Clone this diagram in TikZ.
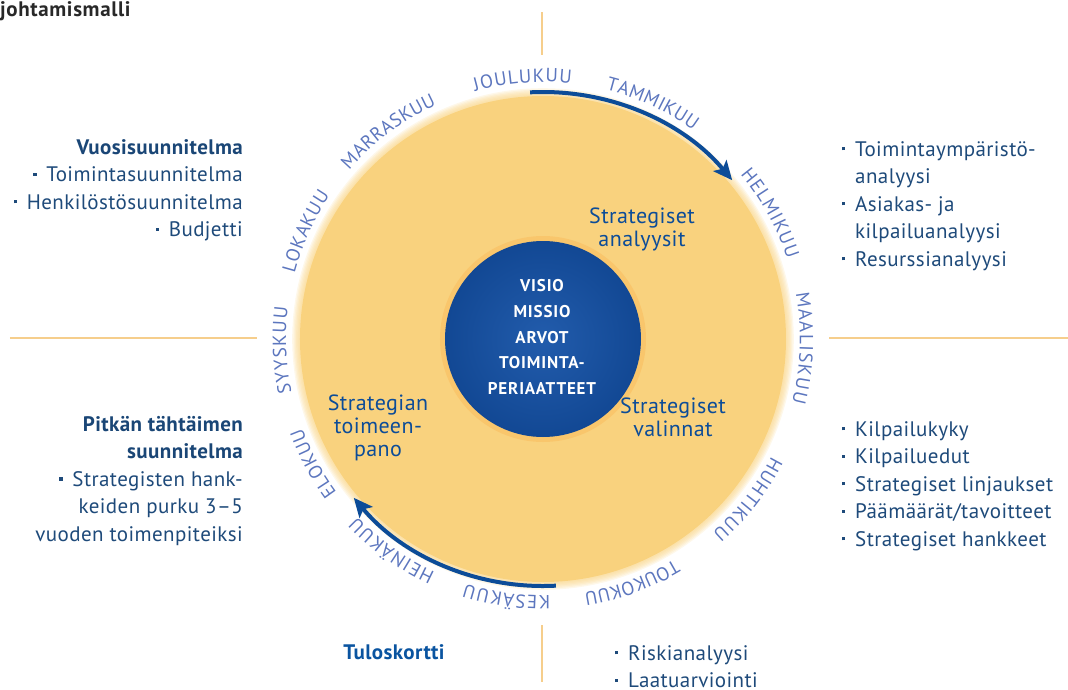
\documentclass[tikz,border=0pt]{standalone}
\usepackage{fontspec}
\setmainfont{PT Sans}
\usetikzlibrary{arrows.meta, positioning, decorations.text}

\definecolor{discyellow}{RGB}{249,210,126}
\definecolor{coreblue}{RGB}{18,72,148}
\definecolor{coreinner}{RGB}{34,92,172}
\definecolor{textblue}{RGB}{30,74,122}
\definecolor{headblue}{RGB}{26,70,118}
\definecolor{cardblue}{RGB}{10,84,160}
\definecolor{monthblue}{RGB}{92,118,190}
\definecolor{arcblue}{RGB}{12,76,152}
\definecolor{ruleline}{RGB}{246,206,140}
\definecolor{titlegray}{RGB}{40,40,40}

\newcommand*\bul{\makebox[13pt][l]{\raisebox{0.27em}{\rule{3.2pt}{3.2pt}}}}
\newcommand*\monthfont{\fontsize{19}{19}\selectfont}

\tikzset{
  side/.style={inner sep=0pt, text=textblue,
    font=\fontsize{21}{27.5}\selectfont\addfontfeature{LetterSpace=2}},
  sidel/.style={side, align=left},
  sider/.style={side, align=right},
  phase/.style={inner sep=0pt, align=center, text=arcblue,
    font=\fontsize{22}{23}\selectfont\addfontfeature{LetterSpace=2}},
  core/.style={inner sep=0pt, align=center, text=white,
    font=\fontsize{17}{25.7}\selectfont\bfseries\addfontfeature{LetterSpace=5}},
  turn/.style={-{Stealth[length=19pt, width=17pt, inset=4pt]}, line width=4pt, arcblue},
  divider/.style={ruleline, line width=1.2pt},
}

\begin{document}
\begin{tikzpicture}[x=1pt, y=1pt]
  \useasboundingbox (-543,-350) rectangle (525,339);

  % title
  \node[inner sep=0pt, anchor=base west, text=titlegray,
    font=\fontsize{21}{21}\selectfont\bfseries\addfontfeature{LetterSpace=3}] (title) at (-543,322) {johtamismalli};

  % dividers
  \draw[divider] (-533,1) -- (-286,1);
  \draw[divider] (286,1) -- (525,1);
  \draw[divider] (-1,284) -- (-1,327);
  \draw[divider] (-1,-286) -- (-1,-343);

  % disc with soft rim
  \fill[discyellow] (0,0) circle (243);
  \foreach \i in {1,...,6}
    \fill[discyellow, opacity=0.16] (0,0) circle ({243+\i*1.3});

  % core
  \fill[discyellow!70!orange, opacity=0.45] (0,0) circle (103);
  \shade[inner color=coreinner, outer color=coreblue] (0,0) circle (98);
  \node[core] (core) at (-1,2) {VISIO\\MISSIO\\ARVOT\\TOIMINTA-\\PERIAATTEET};

  % phases
  \node[phase, anchor=north] (analyysit) at (99,131) {Strategiset\\analyysit};
  \node[phase, anchor=north] (valinnat) at (130,-59) {Strategiset\\valinnat};
  \node[phase, anchor=north] (toimeenpano) at (-165,-56) {Strategian\\toimeen-\\pano};

  % year arrows
  \draw[turn] (93:247) arc[start angle=93, end angle=40, radius=247];
  \draw[turn] (273:247) arc[start angle=273, end angle=220, radius=247];

  % months
  \monthfont
  \foreach \ang/\len/\name in {94.5/97/JOULUKUU, 65/97/TAMMIKUU, 29/97/HELMIKUU,
      -2/110/MAALISKUU, -38/97/HUHTIKUU, -70/97/TOUKOKUU, -98/86/KESÄKUU,
      -125.6/97/HEINÄKUU, -151.5/73/ELOKUU, -177.5/86/SYYSKUU, 155.6/86/LOKAKUU,
      126.7/110/MARRASKUU}
  {
    \pgfmathsetmacro\half{\len*0.11147}
    \path[decorate, decoration={text along path, text/.expanded={\name},
        text color=monthblue, text align={fit to path}}]
      ({\ang+\half}:257) arc[start angle={\ang+\half}, end angle={\ang-\half}, radius=257];
  }

  % side texts
  \node[sider, anchor=north east] (vuosi) at (-300,200)
    {\textbf{\color{headblue}Vuosisuunnitelma}\\
     \bul Toimintasuunnitelma\\
     \bul Henkilöstösuunnitelma\\
     \bul Budjetti};
  \node[sider, anchor=north east] (pitka) at (-300,-77)
    {\textbf{\color{headblue}Pitkän tähtäimen}\\
     \textbf{\color{headblue}suunnitelma}\\
     \bul Strategisten hank-\\
     keiden purku 3–5\\
     vuoden toimenpiteiksi};
  \node[sidel, anchor=north west] (analyysi) at (299,198)
    {\bul Toimintaympäristö-\\
     \phantom{\bul}analyysi\\
     \bul Asiakas- ja\\
     \phantom{\bul}kilpailuanalyysi\\
     \bul Resurssianalyysi};
  \node[sidel, anchor=north west] (valinta) at (299,-82)
    {\bul Kilpailukyky\\
     \bul Kilpailuedut\\
     \bul Strategiset linjaukset\\
     \bul Päämäärät/tavoitteet\\
     \bul Strategiset hankkeet};
  \node[side, anchor=base, text=cardblue,
    font=\fontsize{21}{27.5}\selectfont\bfseries\addfontfeature{LetterSpace=2}]
    (tulos) at (-149,-320) {Tuloskortti};
  \node[sidel, anchor=north west] (riski) at (72,-306)
    {\bul Riskianalyysi\\
     \bul Laatuarviointi};
\end{tikzpicture}
\end{document}
